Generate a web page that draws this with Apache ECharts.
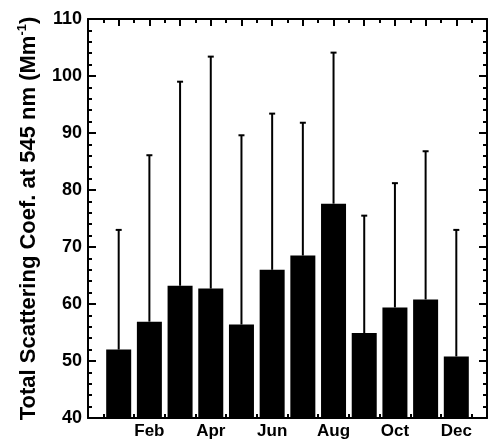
<!DOCTYPE html>
<html>
<head>
<meta charset="utf-8">
<script src="https://cdn.jsdelivr.net/npm/echarts@6/dist/echarts.min.js"></script>
<style>html,body{margin:0;padding:0;background:#fff}#c{width:490px;height:442px}</style>
</head>
<body>
<div id="c"></div>
<script>
var months = ['Jan','Feb','Mar','Apr','May','Jun','Jul','Aug','Sep','Oct','Nov','Dec'];
var monthLabels = ['', 'Feb', '', 'Apr', '', 'Jun', '', 'Aug', '', 'Oct', '', 'Dec'];
var meanValues = [52.0, 56.9, 63.2, 62.7, 56.4, 66.0, 68.5, 77.6, 54.9, 59.4, 60.8, 50.8];
var upperValues = [73.0, 86.1, 99.0, 103.4, 89.6, 93.4, 91.8, 104.1, 75.5, 81.2, 86.8, 73.0];
var yTicks = [40, 50, 60, 70, 80, 90, 100, 110];

var FONT = 'Liberation Sans, Arial, Helvetica, sans-serif';
var barData = meanValues.map(function (v, i) { return [i + 1, v]; });
var errData = meanValues.map(function (v, i) { return [i + 1, v, upperValues[i]]; });

var chart = echarts.init(document.getElementById('c'), null, {renderer: 'canvas'});
function xAxisCfg(pos, showLabel) {
  return {
    type: 'value', position: pos, min: 0, max: 13, interval: 1,
    axisLine: {show: true, onZero: false, lineStyle: {color: '#000', width: 2}},
    axisTick: {show: true, inside: true, length: 7, lineStyle: {color: '#000', width: 2}},
    minorTick: {show: true, splitNumber: 2, length: 4, lineStyle: {color: '#000', width: 2}},
    splitLine: {show: false},
    axisLabel: {
      show: showLabel, margin: 5, color: '#000', fontWeight: 'bold', fontSize: 17, fontFamily: FONT,
      formatter: function (v) { var i = Math.round(v) - 1; return (i >= 0 && i < 12) ? monthLabels[i] : ''; }
    }
  };
}
function yAxisCfg(pos, showLabel) {
  var c = {
    type: 'value', position: pos, min: yTicks[0], max: yTicks[yTicks.length - 1], interval: 10,
    axisLine: {show: true, onZero: false, lineStyle: {color: '#000', width: 2}},
    axisTick: {show: true, inside: true, length: 8, lineStyle: {color: '#000', width: 2}},
    minorTick: {show: true, splitNumber: 5, length: 4, lineStyle: {color: '#000', width: 2}},
    splitLine: {show: false},
    axisLabel: {show: showLabel, margin: 6, color: '#000', fontWeight: 'bold', fontSize: 18, fontFamily: FONT}
  };
  if (showLabel) {
    c.name = '{a|Total Scattering Coef. at 545 nm (Mm}{s|-1}{a|)}';
    c.nameLocation = 'middle';
    c.nameGap = 46;
    c.nameTextStyle = {
      rich: {
        a: {fontSize: 22, fontWeight: 'bold', color: '#000', fontFamily: FONT, lineHeight: 24},
        s: {fontSize: 13, fontWeight: 'bold', color: '#000', fontFamily: FONT, lineHeight: 24, padding: [0, 0, 12, 0]}
      }
    };
  }
  return c;
}
chart.setOption({
  animation: false,
  grid: {left: 88, top: 19, width: 404, height: 399, containLabel: false},
  xAxis: [xAxisCfg('bottom', true), xAxisCfg('top', false)],
  yAxis: [yAxisCfg('left', true), yAxisCfg('right', false)],
  series: [
    {
      type: 'bar', xAxisIndex: 0, yAxisIndex: 0, data: barData, barWidth: 25,
      itemStyle: {color: '#000'}, z: 3
    },
    {
      type: 'custom', xAxisIndex: 0, yAxisIndex: 0, data: errData, z: 4,
      renderItem: function (params, api) {
        var x = api.value(0), m = api.value(1), u = api.value(2);
        var p0 = api.coord([x, m]), p1 = api.coord([x, u]);
        var st = {stroke: '#000', lineWidth: 2};
        return {
          type: 'group',
          children: [
            {type: 'line', shape: {x1: p0[0], y1: p0[1], x2: p1[0], y2: p1[1]}, style: st},
            {type: 'line', shape: {x1: p1[0] - 3, y1: p1[1], x2: p1[0] + 3, y2: p1[1]}, style: st}
          ]
        };
      }
    }
  ]
});
</script>
</body>
</html>
